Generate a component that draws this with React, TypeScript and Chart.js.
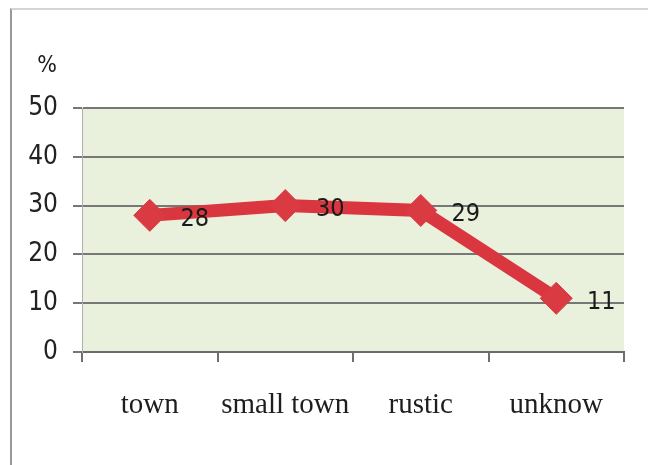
import React, { useEffect, useRef } from "react";
import { Chart, registerables } from "chart.js";

Chart.register(...registerables);

const categories = ["town", "small town", "rustic", "unknow"];
const values = [28, 30, 29, 11];
const yTicks = [0, 10, 20, 30, 40, 50];
const yUnit = "%";

const numFont = "'DejaVu Sans Condensed', 'Liberation Sans', sans-serif";

export default function App() {
  const ref = useRef<HTMLCanvasElement | null>(null);

  useEffect(() => {
    const canvas = ref.current;
    if (!canvas) return;

    const bgPlugin = {
      id: "plotBg",
      beforeDraw(chart: any) {
        const { ctx, chartArea } = chart;
        ctx.save();
        ctx.fillStyle = "#E9F0DC";
        ctx.fillRect(chartArea.left, chartArea.top, chartArea.right - chartArea.left, chartArea.bottom - chartArea.top);
        ctx.restore();
      },
    };

    const labelPlugin = {
      id: "valueLabels",
      afterDatasetsDraw(chart: any) {
        const { ctx } = chart;
        const meta = chart.getDatasetMeta(0);
        ctx.save();
        ctx.font = `25px ${numFont}`;
        ctx.fillStyle = "#1a1a1a";
        ctx.textAlign = "center";
        ctx.textBaseline = "middle";
        meta.data.forEach((pt: any, i: number) => {
          ctx.fillText(String(values[i]), pt.x + 45, pt.y + 4);
        });
        ctx.font = `23px ${numFont}`;
        ctx.textAlign = "center";
        ctx.fillText(yUnit, 47, 66);
        ctx.restore();
      },
    };

    const chart = new Chart(canvas, {
      type: "line",
      data: {
        labels: categories,
        datasets: [
          {
            data: values,
            borderColor: "#D9363F",
            backgroundColor: "#D9363F",
            borderWidth: 13,
            pointStyle: "rectRot",
            pointRadius: 16,
            pointBorderWidth: 1,
            pointBackgroundColor: "#DA3A42",
            pointBorderColor: "#DA3A42",
            tension: 0,
          },
        ],
      },
      options: {
        animation: false,
        responsive: false,
        events: [],
        layout: { padding: { top: 108, right: 24, left: 0, bottom: 0 } },
        plugins: { legend: { display: false }, tooltip: { enabled: false } },
        scales: {
          x: {
            type: "category",
            offset: true,
            afterFit(scale: any) {
              scale.height = 113;
            },
            grid: {
              offset: true,
              drawOnChartArea: false,
              drawTicks: true,
              tickLength: 10,
              color: "#6f6f6f",
              lineWidth: 2,
            },
            border: { display: true, color: "#6a6a6a", width: 2 },
            ticks: {
              padding: 26,
              color: "#1e1e1e",
              font: { family: "'Liberation Serif', 'DejaVu Serif', serif", size: 29 },
            },
          },
          y: {
            min: 0,
            max: 50,
            afterFit(scale: any) {
              scale.width = 82;
            },
            afterBuildTicks(scale: any) {
              scale.ticks = yTicks.map((v) => ({ value: v }));
            },
            grid: {
              color: "#777",
              lineWidth: 2,
              drawTicks: true,
              tickLength: 9,
            },
            border: { display: true, color: "#b0b0b0", width: 1 },
            ticks: {
              padding: 15,
              color: "#222",
              font: { family: numFont, size: 26 },
            },
          },
        },
      },
      plugins: [bgPlugin, labelPlugin],
    });

    return () => chart.destroy();
  }, []);

  return (
    <div style={{ position: "fixed", left: 0, top: 0, width: 648, height: 465, background: "#fff" }}>
      <div
        style={{
          position: "absolute",
          left: 10,
          top: 8,
          width: 638,
          height: 457,
          borderTop: "2px solid #d4d4d4",
          borderLeft: "2px solid #999",
          boxSizing: "border-box",
        }}
      />
      <canvas ref={ref} width={648} height={465} style={{ position: "absolute", left: 0, top: 0, width: 648, height: 465 }} />
    </div>
  );
}
